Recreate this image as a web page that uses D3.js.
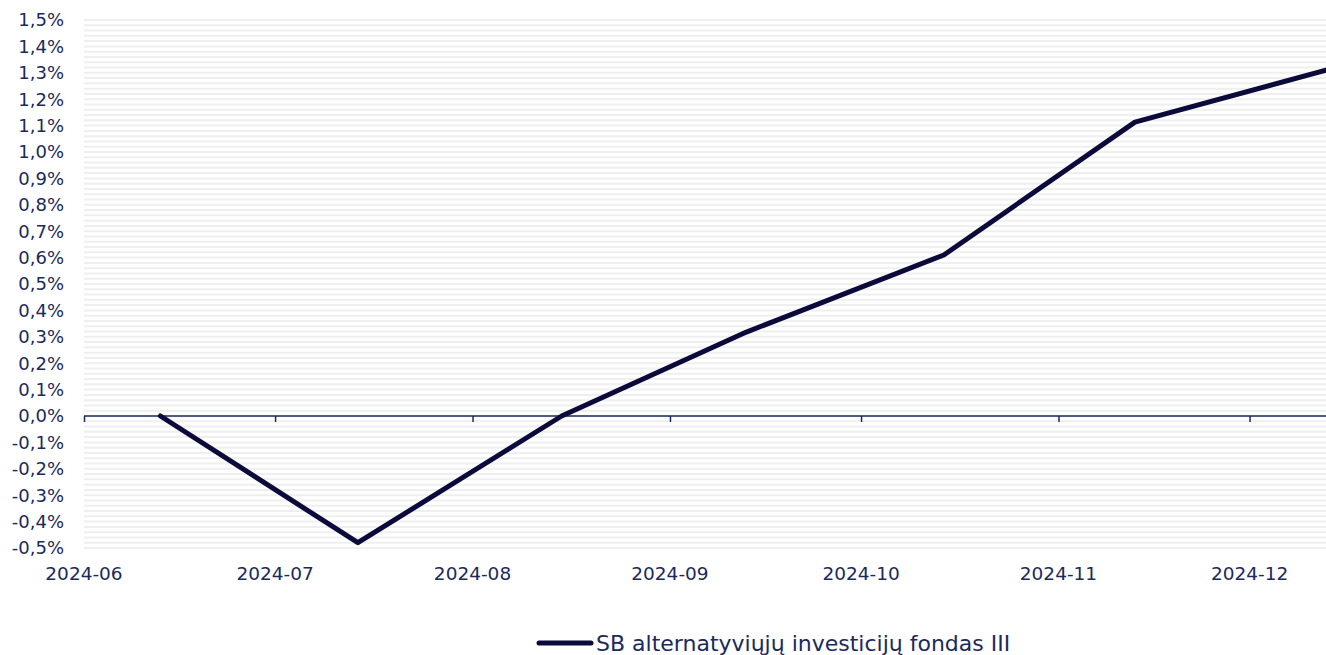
<!DOCTYPE html>
<html>
<head>
<meta charset="utf-8">
<script src="https://cdn.jsdelivr.net/npm/d3@7"></script>
<style>
  body { margin: 0; background: #fff; }
  text { font-family: "DejaVu Sans", Verdana, sans-serif; fill: #1b2a5c; }
</style>
</head>
<body>
<svg id="chart"></svg>
<script>
// values (percent)
let dates = ["2024-06-13", "2024-07-14", "2024-08-15", "2024-09-13", "2024-10-14", "2024-11-13", "2024-12-13"];
let values = [0.00, -0.48, 0.00, 0.318, 0.61, 1.113, 1.31];
let monthTicks = ["2024-06", "2024-07", "2024-08", "2024-09", "2024-10", "2024-11", "2024-12"];
let yTicks = [-0.5, -0.4, -0.3, -0.2, -0.1, 0, 0.1, 0.2, 0.3, 0.4, 0.5, 0.6, 0.7, 0.8, 0.9, 1.0, 1.1, 1.2, 1.3, 1.4, 1.5];
let seriesName = "SB alternatyviųjų investicijų fondas III";

let width = 1326;
let height = 655;
let plotLeft = 84;
let plotTop = 20;
let plotBottom = 548;

let parse = d3.timeParse("%Y-%m-%d");
let data = dates.map((d, i) => ({ date: parse(d), value: values[i] }));

let svg = d3.select("#chart")
    .attr("width", width)
    .attr("height", height);

let x = d3.scaleTime()
    .domain([parse("2024-06-01"), parse("2024-12-13")])
    .range([plotLeft, width]);

let y = d3.scaleLinear()
    .domain([-0.5, 1.5])
    .range([plotBottom, plotTop]);

// faint minor gridlines every 0.02%
let minor = d3.range(-0.5, 1.5001, 0.02);
svg.append("g")
    .selectAll("line")
    .data(minor)
    .join("line")
    .attr("x1", plotLeft)
    .attr("x2", width)
    .attr("y1", d => y(d))
    .attr("y2", d => y(d))
    .attr("stroke", "#efefef")
    .attr("stroke-width", 2);

// y labels
svg.append("g")
    .selectAll("text")
    .data(yTicks)
    .join("text")
    .attr("x", 64)
    .attr("y", d => y(d))
    .attr("dy", "0.36em")
    .attr("text-anchor", "end")
    .attr("font-size", "18px")
    .text(d => d3.format(".1f")(d).replace(".", ",").replace("−", "-") + "%");

// zero axis with month ticks
let axisX = d3.axisBottom(x)
    .tickValues(monthTicks.map(m => parse(m + "-01")))
    .tickSize(6)
    .tickFormat("");

let gx = svg.append("g")
    .attr("transform", `translate(0, ${y(0)})`)
    .call(axisX);
gx.select(".domain")
    .attr("d", `M${plotLeft},0H${width}`)
    .attr("stroke", "#1b2a5c")
    .attr("stroke-width", 1.5);
gx.selectAll(".tick line")
    .attr("stroke", "#1b2a5c")
    .attr("stroke-width", 1.5);

// month labels under plot
svg.append("g")
    .selectAll("text")
    .data(monthTicks)
    .join("text")
    .attr("x", d => x(parse(d + "-01")))
    .attr("y", 580)
    .attr("text-anchor", "middle")
    .attr("font-size", "18.5px")
    .text(d => d);

// the series
let line = d3.line()
    .x(d => x(d.date))
    .y(d => y(d.value));

svg.append("path")
    .datum(data)
    .attr("d", line)
    .attr("fill", "none")
    .attr("stroke", "#0b0a3a")
    .attr("stroke-width", 5)
    .attr("stroke-linejoin", "round")
    .attr("stroke-linecap", "round");

// legend
let legend = svg.append("g")
    .attr("transform", "translate(537, 643)");
legend.append("line")
    .attr("x1", 2)
    .attr("x2", 54)
    .attr("stroke", "#0b0a3a")
    .attr("stroke-width", 5)
    .attr("stroke-linecap", "round");
legend.append("text")
    .attr("x", 59)
    .attr("dy", "0.36em")
    .attr("font-size", "22px")
    .text(seriesName);
</script>
</body>
</html>
